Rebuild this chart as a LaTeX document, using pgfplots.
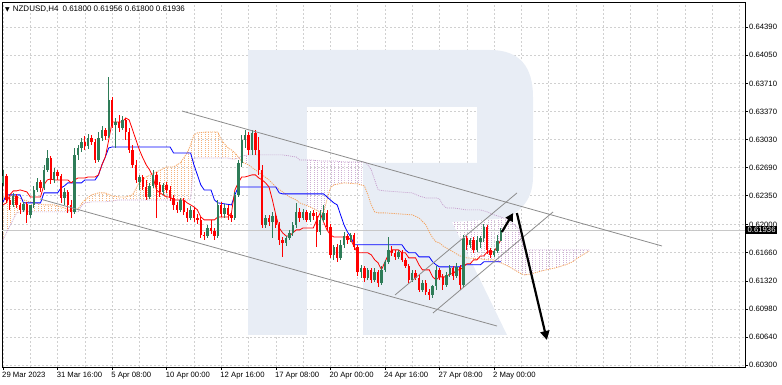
\documentclass[border=0pt]{standalone}
\usepackage{fontspec}
\setmainfont{Liberation Sans}
\newfontfamily\dejavu{DejaVu Sans}
\usepackage{pgfplots}
\pgfplotsset{compat=1.18}
\usepackage{pgfplotstable}
\usepgfplotslibrary{fillbetween}
\usetikzlibrary{patterns,arrows.meta}

\definecolor{bullc}{RGB}{46,124,88}
\definecolor{bearc}{RGB}{255,0,0}
\definecolor{sandy}{RGB}{244,164,96}
\definecolor{sandyh}{RGB}{246,180,124}
\definecolor{thist}{RGB}{196,156,204}
\definecolor{thisth}{RGB}{206,174,212}
\definecolor{gridc}{RGB}{208,208,208}
\definecolor{wmark}{RGB}{232,237,245}
\definecolor{trendc}{RGB}{140,140,140}
\definecolor{bidc}{RGB}{200,200,200}

\pgfdeclarepatternformonly{vdots}{\pgfqpoint{-0.1pt}{-0.1pt}}{\pgfqpoint{3.5pt}{2.1pt}}{\pgfqpoint{3.41pt}{2pt}}{\pgfpathrectangle{\pgfqpoint{0pt}{0pt}}{\pgfqpoint{0.55pt}{0.9pt}}\pgfusepath{fill}}

% bullish candles (close >= open)
\pgfplotstableread{
i o h l c
0 0.62505 0.62662 0.62468 0.62589
3 0.62239 0.62384 0.62214 0.62347
6 0.62178 0.62275 0.62154 0.62251
8 0.62118 0.62202 0.62081 0.62239
9 0.62239 0.62468 0.62202 0.62420
10 0.62420 0.62565 0.62396 0.62517
12 0.62444 0.62723 0.62420 0.62662
13 0.62662 0.62904 0.62638 0.62807
15 0.62541 0.62686 0.62505 0.62638
18 0.62323 0.62444 0.62239 0.62396
21 0.62154 0.62928 0.62130 0.62844
22 0.62844 0.62965 0.62783 0.62928
23 0.62928 0.63049 0.62880 0.63001
25 0.62952 0.63098 0.62916 0.63049
28 0.62783 0.63122 0.62759 0.63049
29 0.63049 0.63194 0.63013 0.63146
31 0.63073 0.63787 0.63049 0.63509
33 0.63207 0.63291 0.62928 0.63243
35 0.63170 0.63315 0.63146 0.63267
40 0.62517 0.62602 0.62420 0.62577
43 0.62335 0.62505 0.62311 0.62468
44 0.62468 0.62662 0.62444 0.62602
47 0.62396 0.62505 0.62360 0.62481
52 0.62178 0.62323 0.62154 0.62299
55 0.62081 0.62226 0.62057 0.62178
60 0.61863 0.61997 0.61839 0.61960
63 0.61863 0.62299 0.61839 0.62239
65 0.62130 0.62251 0.62081 0.62202
68 0.62081 0.62396 0.62057 0.62360
69 0.62360 0.62783 0.62335 0.62747
70 0.62747 0.63086 0.62698 0.63025
71 0.63025 0.63146 0.62928 0.63086
73 0.62904 0.63146 0.62844 0.63110
77 0.61997 0.62118 0.61960 0.62081
79 0.62033 0.62154 0.61839 0.62105
83 0.61779 0.61863 0.61742 0.61839
84 0.61839 0.61936 0.61815 0.61900
85 0.61900 0.62033 0.61863 0.61997
86 0.61997 0.62263 0.61960 0.62154
88 0.62081 0.62190 0.62057 0.62154
90 0.62057 0.62166 0.62033 0.62142
93 0.61912 0.62178 0.61876 0.62057
94 0.62057 0.62239 0.62033 0.62142
97 0.61634 0.61755 0.61573 0.61730
99 0.61597 0.61815 0.61573 0.61755
100 0.61755 0.61912 0.61718 0.61863
102 0.61815 0.61900 0.61791 0.61876
105 0.61428 0.61513 0.61355 0.61476
107 0.61355 0.61476 0.61331 0.61452
109 0.61331 0.61476 0.61307 0.61428
111 0.61295 0.61500 0.61271 0.61452
112 0.61452 0.61573 0.61428 0.61549
113 0.61549 0.61851 0.61525 0.61694
116 0.61609 0.61694 0.61585 0.61670
120 0.61331 0.61452 0.61307 0.61416
123 0.61210 0.61331 0.61186 0.61295
126 0.61150 0.61271 0.61113 0.61258
127 0.61258 0.61500 0.61210 0.61452
130 0.61271 0.61428 0.61246 0.61391
131 0.61391 0.61513 0.61367 0.61476
133 0.61379 0.61537 0.61355 0.61488
135 0.61271 0.61876 0.61234 0.61839
137 0.61755 0.61839 0.61718 0.61815
139 0.61694 0.61863 0.61670 0.61815
140 0.61791 0.61863 0.61718 0.61839
141 0.61839 0.62009 0.61791 0.61972
144 0.61634 0.61706 0.61609 0.61682
145 0.61682 0.61876 0.61658 0.61803
146 0.61800 0.61956 0.61800 0.61936
}\bull

% bearish candles (close < open)
\pgfplotstableread{
i o h l c
1 0.62589 0.62614 0.62263 0.62299
2 0.62299 0.62335 0.62178 0.62239
4 0.62347 0.62372 0.62202 0.62239
5 0.62239 0.62263 0.62130 0.62178
7 0.62251 0.62275 0.62021 0.62118
11 0.62517 0.62541 0.62396 0.62444
14 0.62807 0.62831 0.62493 0.62541
16 0.62638 0.62662 0.62541 0.62589
17 0.62589 0.62614 0.62263 0.62323
19 0.62396 0.62420 0.62142 0.62239
20 0.62239 0.62299 0.62081 0.62154
24 0.63001 0.63073 0.62904 0.62952
26 0.63049 0.63086 0.62965 0.63001
27 0.63001 0.63037 0.62747 0.62783
30 0.63146 0.63170 0.63025 0.63073
32 0.63509 0.63545 0.63170 0.63207
34 0.63243 0.63328 0.63122 0.63170
36 0.63267 0.63291 0.63025 0.63122
37 0.63122 0.63170 0.62868 0.62904
38 0.62904 0.62965 0.62686 0.62723
39 0.62723 0.62783 0.62505 0.62541
41 0.62577 0.62602 0.62420 0.62456
42 0.62456 0.62541 0.62299 0.62335
45 0.62602 0.62638 0.62081 0.62481
46 0.62481 0.62517 0.62335 0.62396
48 0.62481 0.62517 0.62384 0.62420
49 0.62420 0.62468 0.62287 0.62323
50 0.62323 0.62360 0.62178 0.62239
51 0.62239 0.62275 0.62142 0.62178
53 0.62299 0.62323 0.62118 0.62154
54 0.62154 0.62202 0.62033 0.62081
56 0.62178 0.62214 0.62033 0.62081
57 0.62081 0.62130 0.62009 0.62057
58 0.62057 0.62093 0.61839 0.61876
59 0.61876 0.61912 0.61815 0.61863
61 0.61960 0.62057 0.61888 0.61924
62 0.61924 0.61960 0.61815 0.61863
64 0.62239 0.62275 0.62093 0.62130
66 0.62202 0.62239 0.62057 0.62118
67 0.62118 0.62154 0.62033 0.62081
72 0.63086 0.63122 0.62844 0.62904
74 0.63110 0.63146 0.62844 0.62904
75 0.62904 0.63061 0.62602 0.62662
76 0.62662 0.62723 0.61960 0.61997
78 0.62081 0.62118 0.61984 0.62033
80 0.62105 0.62130 0.61960 0.61997
81 0.61997 0.62033 0.61755 0.61815
82 0.61815 0.61851 0.61609 0.61779
87 0.62154 0.62202 0.62033 0.62081
89 0.62154 0.62178 0.62033 0.62057
91 0.62142 0.62178 0.62057 0.62105
92 0.62105 0.62154 0.61730 0.61912
95 0.62142 0.62178 0.61936 0.61972
96 0.61972 0.62009 0.61597 0.61634
98 0.61730 0.61767 0.61549 0.61597
101 0.61863 0.61888 0.61767 0.61815
103 0.61876 0.61900 0.61694 0.61730
104 0.61730 0.61755 0.61379 0.61428
106 0.61476 0.61500 0.61307 0.61355
108 0.61452 0.61476 0.61295 0.61331
110 0.61428 0.61452 0.61246 0.61295
114 0.61694 0.61742 0.61621 0.61658
115 0.61658 0.61694 0.61573 0.61609
117 0.61670 0.61694 0.61549 0.61573
118 0.61573 0.61597 0.61476 0.61500
119 0.61500 0.61525 0.61295 0.61331
121 0.61416 0.61452 0.61331 0.61355
122 0.61355 0.61391 0.61186 0.61210
124 0.61295 0.61331 0.61150 0.61186
125 0.61186 0.61222 0.61089 0.61150
128 0.61452 0.61476 0.61331 0.61367
129 0.61367 0.61404 0.61210 0.61271
132 0.61476 0.61500 0.61331 0.61379
134 0.61488 0.61513 0.61210 0.61271
136 0.61839 0.61863 0.61694 0.61755
138 0.61815 0.61851 0.61658 0.61694
142 0.61972 0.61997 0.61646 0.61694
143 0.61694 0.61718 0.61597 0.61634
}\bear

\pgfplotstableread{
i p
0 0.62239
1 0.62263
2 0.62360
3 0.62408
4 0.62408
5 0.62420
6 0.62408
7 0.62396
8 0.62335
9 0.62335
10 0.62335
11 0.62335
12 0.62481
13 0.62541
14 0.62553
15 0.62541
16 0.62541
17 0.62541
18 0.62541
19 0.62541
20 0.62505
21 0.62541
22 0.62565
23 0.62565
24 0.62565
25 0.62577
26 0.62577
27 0.62577
28 0.62602
29 0.62723
30 0.62819
31 0.63025
32 0.63243
33 0.63243
34 0.63243
35 0.63243
36 0.63291
37 0.63267
38 0.63146
39 0.63025
40 0.62904
41 0.62807
42 0.62723
43 0.62662
44 0.62577
45 0.62420
46 0.62384
47 0.62360
48 0.62335
49 0.62335
50 0.62299
51 0.62299
52 0.62299
53 0.62299
54 0.62263
55 0.62239
56 0.62214
57 0.62178
58 0.62093
59 0.62057
60 0.62057
61 0.62057
62 0.62057
63 0.62093
64 0.62093
65 0.62093
66 0.62093
67 0.62142
68 0.62420
69 0.62505
70 0.62577
71 0.62577
72 0.62589
73 0.62602
74 0.62602
75 0.62565
76 0.62541
77 0.62505
78 0.62456
79 0.62299
80 0.62118
81 0.61960
82 0.61900
83 0.61863
84 0.61863
85 0.61900
86 0.61936
87 0.61936
88 0.61960
89 0.61960
90 0.61960
91 0.61960
92 0.62057
93 0.62142
94 0.62033
95 0.61936
96 0.61876
97 0.61851
98 0.61851
99 0.61851
100 0.61851
101 0.61851
102 0.61815
103 0.61730
104 0.61658
105 0.61658
106 0.61658
107 0.61658
108 0.61634
109 0.61573
110 0.61537
111 0.61452
112 0.61549
113 0.61634
114 0.61694
115 0.61694
116 0.61694
117 0.61658
118 0.61658
119 0.61597
120 0.61597
121 0.61597
122 0.61513
123 0.61452
124 0.61452
125 0.61452
126 0.61367
127 0.61331
128 0.61367
129 0.61367
130 0.61367
131 0.61404
132 0.61404
133 0.61452
134 0.61452
135 0.61488
136 0.61525
137 0.61525
138 0.61573
139 0.61573
140 0.61621
141 0.61621
142 0.61670
143 0.61670
144 0.61670
145 0.61742
146 0.61815
}\tenkan

\pgfplotstableread{
i p
0 0.62275
1 0.62360
5 0.62360
6 0.62263
11 0.62263
12 0.62384
16 0.62384
17 0.62444
18 0.62468
19 0.62505
23 0.62505
24 0.62541
27 0.62541
28 0.62602
29 0.62723
30 0.62819
31 0.62928
32 0.62940
49 0.62940
50 0.62868
55 0.62868
56 0.62723
57 0.62602
58 0.62481
59 0.62420
61 0.62420
62 0.62299
63 0.62263
67 0.62239
68 0.62360
69 0.62456
80 0.62456
81 0.62384
82 0.62372
94 0.62372
95 0.62335
96 0.62299
97 0.62263
98 0.62239
99 0.62118
100 0.61997
101 0.61912
102 0.61851
103 0.61755
117 0.61755
118 0.61694
119 0.61658
121 0.61658
122 0.61609
125 0.61609
126 0.61549
127 0.61513
128 0.61488
134 0.61488
135 0.61513
140 0.61513
141 0.61549
146 0.61549
}\kijun

% Senkou span A (a) and B (b): part where A is above B
\pgfplotstableread{
i a b
0 0.62335 0.61815
2 0.62360 0.61984
4 0.62335 0.62142
6 0.62299 0.62166
9 0.62263 0.62154
12 0.62239 0.62154
15 0.62239 0.62154
18 0.62202 0.62154
20 0.62166 0.62154
22 0.62190 0.62154
23 0.62251 0.62226
24 0.62299 0.62263
26 0.62360 0.62275
28 0.62384 0.62275
30 0.62384 0.62275
32 0.62347 0.62287
34 0.62335 0.62299
36 0.62335 0.62299
38 0.62360 0.62299
40 0.62517 0.62299
42 0.62577 0.62299
45 0.62638 0.62299
48 0.62698 0.62299
50 0.62698 0.62299
52 0.62747 0.62299
54 0.62868 0.62299
55 0.62965 0.62299
56 0.63086 0.62807
57 0.63110 0.62807
60 0.63122 0.62807
63 0.63122 0.62807
64 0.63025 0.62807
66 0.62928 0.62807
67 0.62904 0.62795
68 0.62868 0.62795
69 0.62819 0.62807
69.14 0.62811 0.62811
}\cloudup

% part where B is above A
\pgfplotstableread{
i a b
69.14 0.62811 0.62811
70 0.62759 0.62831
72 0.62723 0.62844
74 0.62662 0.62844
76 0.62602 0.62844
78 0.62541 0.62844
80 0.62456 0.62844
82 0.62396 0.62844
84 0.62335 0.62831
86 0.62299 0.62819
87 0.62263 0.62783
90 0.62214 0.62783
93 0.62154 0.62771
94 0.62142 0.62771
95 0.62299 0.62771
96 0.62444 0.62771
97 0.62481 0.62771
100 0.62505 0.62759
104 0.62493 0.62759
106 0.62468 0.62759
107 0.62360 0.62723
108 0.62239 0.62662
109 0.62154 0.62541
110 0.62142 0.62420
112 0.62142 0.62408
116 0.62130 0.62396
120 0.62118 0.62384
122 0.62081 0.62347
124 0.61997 0.62323
125 0.61912 0.62323
126 0.61839 0.62323
127 0.61791 0.62323
128 0.61779 0.62311
129 0.61742 0.62239
130 0.61718 0.62202
132 0.61670 0.62202
134 0.61621 0.62190
136 0.61597 0.62178
140 0.61585 0.62178
142 0.61573 0.62154
144 0.61573 0.62118
146 0.61537 0.62093
148 0.61500 0.62057
150 0.61452 0.61997
151 0.61428 0.61960
152 0.61404 0.61815
153 0.61391 0.61694
155 0.61404 0.61694
158 0.61440 0.61694
162 0.61476 0.61694
165 0.61513 0.61694
167 0.61549 0.61694
169 0.61609 0.61694
171 0.61658 0.61694
172 0.61682 0.61694
}\clouddn

\newcommand{\lblfont}{\fontsize{7.7}{9}\selectfont}

\begin{document}
\begin{tikzpicture}
% watermark logo
\fill[wmark] (246pt,32pt) rectangle (305pt,317pt);
\fill[wmark] (304pt,317pt) -- (488pt,317pt) .. controls (518pt,317pt) and (531pt,300pt) .. (531pt,270pt) -- (531pt,190pt) .. controls (531pt,165pt) and (515pt,150pt) .. (495pt,148pt) -- (450pt,145pt) -- (505pt,32pt) -- (361pt,32pt) -- (361pt,204pt) -- (475pt,204pt) -- (475pt,260pt) -- (304pt,260pt) -- cycle;
\begin{axis}[
  at={(0pt,0pt)}, anchor=south west,
  width=743pt, height=365pt, scale only axis,
  xmin=-0.3, xmax=217.6, ymin=0.60276, ymax=0.64695,
  axis line style={black, line width=0.6pt},
  xtick={0,16,32,48,64,80,96,112,128,144},
  xticklabels={29 Mar 2023,31 Mar 16:00,5 Apr 08:00,10 Apr 00:00,12 Apr 16:00,17 Apr 08:00,20 Apr 00:00,24 Apr 16:00,27 Apr 08:00,2 May 00:00},
  minor xtick={8,24,40,56,72,88,104,120,136,152,160,168,176,184,192,200,208,216},
  ytick={0.60300,0.60640,0.60980,0.61320,0.61660,0.62000,0.62350,0.62690,0.63030,0.63370,0.63710,0.64050,0.64390},
  yticklabels={0.60300,0.60640,0.60980,0.61320,0.61660,0.62000,0.62350,0.62690,0.63030,0.63370,0.63710,0.64050,0.64390},
  scaled y ticks=false,
  xtick pos=bottom, ytick pos=right, yticklabel pos=right,
  tick align=outside, major tick length=3pt, minor tick length=0pt,
  tick style={black, line width=0.5pt},
  grid=both,
  major grid style={gridc, dash pattern=on 2pt off 2pt, line width=0.5pt},
  minor grid style={gridc, dash pattern=on 2pt off 2pt, line width=0.5pt},
  xticklabel style={anchor=north west, inner sep=0pt, xshift=-1pt, yshift=-2pt, font=\lblfont},
  yticklabel style={anchor=west, inner sep=0pt, xshift=1pt, font=\lblfont},
]
% bid line
\addplot[bidc, line width=0.6pt, forget plot] coordinates {(-0.3,0.61936) (217.6,0.61936)};
% Ichimoku cloud
\addplot[draw=none, name path=sa1] table[x=i,y=a] {\cloudup};
\addplot[draw=none, name path=sa2] table[x=i,y=a] {\clouddn};
\addplot[draw=none, name path=sb1] table[x=i,y=b] {\cloudup};
\addplot[draw=none, name path=sb2] table[x=i,y=b] {\clouddn};
\addplot[draw=none, pattern=vdots, pattern color=sandyh] fill between[of=sa1 and sb1];
\addplot[draw=none, pattern=vdots, pattern color=thisth] fill between[of=sa2 and sb2];
\addplot[thist, line width=0.7pt, dash pattern=on 1pt off 1pt] table[x=i,y=b] {\cloudup};
\addplot[thist, line width=0.7pt, dash pattern=on 1pt off 1pt] table[x=i,y=b] {\clouddn};
\addplot[sandy, line width=0.8pt, dash pattern=on 1.2pt off 1pt] table[x=i,y=a] {\cloudup};
\addplot[sandy, line width=0.8pt, dash pattern=on 1.2pt off 1pt] table[x=i,y=a] {\clouddn};
% Kijun and Tenkan
\addplot[blue, line width=0.8pt] table[x=i,y=p] {\kijun};
\addplot[red, line width=0.8pt] table[x=i,y=p] {\tenkan};
% candles: wicks
\addplot[draw=none, mark=none, forget plot, error bars/.cd, y dir=plus, y explicit, error mark=none, error bar style={draw=bullc, line width=0.8pt}]
  table[x=i, y=l, y error expr={\thisrow{h}-\thisrow{l}}] {\bull};
\addplot[draw=none, mark=none, forget plot, error bars/.cd, y dir=plus, y explicit, error mark=none, error bar style={draw=bearc, line width=0.8pt}]
  table[x=i, y=l, y error expr={\thisrow{h}-\thisrow{l}}] {\bear};
% candles: bodies
\addplot[draw=none, mark=none, forget plot, error bars/.cd, y dir=plus, y explicit, error mark=none, error bar style={draw=bullc, line width=2.4pt}]
  table[x=i, y=o, y error expr={\thisrow{c}-\thisrow{o}}] {\bull};
\addplot[draw=none, mark=none, forget plot, error bars/.cd, y dir=plus, y explicit, error mark=none, error bar style={draw=bearc, line width=2.4pt}]
  table[x=i, y=c, y error expr={\thisrow{o}-\thisrow{c}}] {\bear};
% trend channel lines
\addplot[trendc, line width=0.8pt] coordinates {(52.49,0.63375) (193.26,0.61741)};
\addplot[trendc, line width=0.8pt] coordinates {(10.85,0.62310) (144.87,0.60772)};
\addplot[trendc, line width=0.8pt] coordinates {(114.96,0.61148) (150.73,0.62383)};
\addplot[trendc, line width=0.8pt] coordinates {(126.1,0.60930) (161.3,0.62153)};
% forecast arrows
\addplot[black, line width=2.2pt, -{Triangle[length=8pt,width=8pt]}] coordinates {(146.3,0.61910) (149.6,0.62140)};
\addplot[black, line width=2.2pt, -{Triangle[length=9pt,width=9pt]}] coordinates {(150.7,0.62140) (159.5,0.60603)};
\coordinate (bid) at (axis cs:217.6,0.61936);
\end{axis}
\node[fill=black, text=white, anchor=west, inner xsep=1.5pt, inner ysep=1.6pt, xshift=1pt, font=\lblfont] at (bid) {0.61936};
\node[anchor=west, inner sep=0pt, font=\fontsize{8}{9}\selectfont] at (3pt,358pt) {{\dejavu\fontsize{6}{7}\selectfont ▼}\hspace{3pt}NZDUSD,H4\hspace{4pt}0.61800 0.61956 0.61800 0.61936};
\path (-2pt,-18pt) rectangle (780pt,367pt);
\end{tikzpicture}
\end{document}
